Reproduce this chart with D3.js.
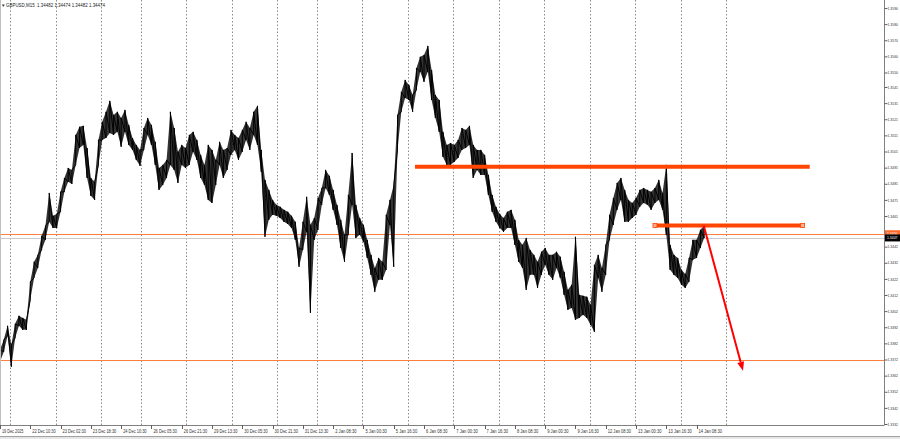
<!DOCTYPE html>
<html><head><meta charset="utf-8">
<script src="https://cdn.jsdelivr.net/npm/d3@7"></script>
<style>body{margin:0;background:#fff;overflow:hidden} svg{display:block}</style>
</head><body><svg id="c" width="900" height="439"></svg>
<script>
// ---------- data ----------
const symbolTitle = "GBPUSD,M15";
const headerValues = ["1.34482", "1.34474", "1.34482", "1.34474"];

const priceTickLabels = ["1.3590","1.3580","1.3570","1.3560","1.3550","1.3541","1.3531","1.3521","1.3511","1.3501","1.3491","1.3481","1.3471","1.3461","1.3442","1.3432","1.3422","1.3412","1.3402","1.3392","1.3382","1.3372","1.3362","1.3352","1.3342","1.3332"];

const timeLabels = ["19 Dec 2025","22 Dec 10:30","23 Dec 02:30","23 Dec 18:30","24 Dec 10:30","26 Dec 05:30","26 Dec 21:30","29 Dec 13:30","30 Dec 05:30","30 Dec 21:30","31 Dec 13:30","2 Jan 08:30","5 Jan 00:30","5 Jan 16:30","6 Jan 08:30","7 Jan 00:30","7 Jan 16:30","8 Jan 08:30","9 Jan 00:30","9 Jan 16:30","12 Jan 08:30","13 Jan 00:30","13 Jan 16:30","14 Jan 08:30"];
const timeLabelStepBars = 64;           // one label every 16 hours of M15 bars
const daySeparatorBars = [22,118,214,298,394,490,586,670,766,862,958,1054,1150,1246,1342,1438,1534];
const sampleBars = 8;                   // each sample = 2 hours of M15 bars
const visibleBars = 1868;

// 2-hour high / low samples
const highs = [1.33780,1.33842,1.33929,1.33811,1.33941,1.33991,1.33978,1.33966,1.34202,1.34326,
1.34369,1.34487,1.34549,1.34753,1.34611,1.34623,1.34760,1.34846,1.34908,1.34896,
1.35113,1.35163,1.35169,1.35032,1.34846,1.34822,1.35082,1.35194,1.35256,1.35324,
1.35237,1.35256,1.35218,1.35268,1.35175,1.35094,1.35051,1.35020,1.35156,1.35218,
1.35175,1.35070,1.34908,1.34927,1.34958,1.35256,1.35156,1.35008,1.35051,1.35032,
1.35113,1.35132,1.35082,1.34989,1.34927,1.35051,1.35020,1.34958,1.35070,1.35020,
1.35032,1.35144,1.35113,1.35094,1.35144,1.35194,1.35156,1.35256,1.35293,1.35020,
1.34834,1.34772,1.34710,1.34679,1.34667,1.34648,1.34636,1.34611,1.34574,1.34412,
1.34574,1.34729,1.34555,1.34598,1.34722,1.34784,1.34896,1.34859,1.34772,1.34679,
1.34586,1.34493,1.34741,1.35001,1.34679,1.34598,1.34555,1.34462,1.34369,1.34288,
1.34350,1.34326,1.34617,1.34710,1.34803,1.35237,1.35380,1.35454,1.35423,1.35361,
1.35528,1.35597,1.35609,1.35665,1.35516,1.35361,1.35330,1.35132,1.35051,1.35063,
1.35051,1.35082,1.35156,1.35144,1.35169,1.35051,1.35020,1.35020,1.34989,1.34865,
1.34741,1.34667,1.34623,1.34598,1.34636,1.34648,1.34586,1.34462,1.34431,1.34474,
1.34400,1.34369,1.34326,1.34388,1.34412,1.34369,1.34369,1.34388,1.34357,1.34264,
1.34152,1.34183,1.34481,1.34121,1.34115,1.34109,1.34059,1.34307,1.34369,1.34288,
1.34431,1.34617,1.34722,1.34815,1.34846,1.34772,1.34710,1.34691,1.34722,1.34772,
1.34784,1.34772,1.34760,1.34784,1.34834,1.34753,1.34927,1.34431,1.34369,1.34350,
1.34276,1.34251,1.34350,1.34462,1.34462,1.34524,1.34549];
const lows = [1.33706,1.33768,1.33867,1.33675,1.33854,1.33929,1.33904,1.33904,1.34090,1.34226,
1.34288,1.34400,1.34462,1.34574,1.34536,1.34536,1.34636,1.34760,1.34822,1.34809,
1.34927,1.35032,1.35051,1.34846,1.34735,1.34710,1.34927,1.35082,1.35094,1.35125,
1.35113,1.35132,1.35039,1.35132,1.35051,1.35020,1.34958,1.34921,1.35020,1.35113,
1.35051,1.34927,1.34772,1.34803,1.34846,1.34927,1.34896,1.34815,1.34927,1.34908,
1.34927,1.35008,1.34958,1.34846,1.34803,1.34710,1.34691,1.34803,1.34927,1.34846,
1.34896,1.34989,1.35020,1.34958,1.35008,1.35082,1.35020,1.35113,1.35051,1.34884,
1.34481,1.34586,1.34617,1.34611,1.34598,1.34574,1.34561,1.34536,1.34462,1.34295,
1.34400,1.34512,1.34009,1.34462,1.34524,1.34679,1.34784,1.34741,1.34648,1.34555,
1.34412,1.34326,1.34493,1.34679,1.34474,1.34493,1.34450,1.34350,1.34245,1.34140,
1.34214,1.34214,1.34276,1.34555,1.34295,1.35020,1.35256,1.35342,1.35330,1.35256,
1.35392,1.35504,1.35442,1.35504,1.35330,1.35218,1.35132,1.34977,1.34927,1.34927,
1.34946,1.34970,1.35020,1.35032,1.35051,1.34846,1.34896,1.34865,1.34865,1.34741,
1.34636,1.34574,1.34536,1.34512,1.34536,1.34536,1.34431,1.34326,1.34288,1.34152,
1.34245,1.34245,1.34164,1.34245,1.34307,1.34245,1.34214,1.34288,1.34226,1.34121,
1.34028,1.34040,1.33966,1.33978,1.33997,1.33978,1.33935,1.33892,1.34226,1.34140,
1.34245,1.34462,1.34555,1.34648,1.34710,1.34574,1.34574,1.34598,1.34617,1.34667,
1.34691,1.34679,1.34648,1.34691,1.34710,1.34648,1.34493,1.34276,1.34245,1.34226,
1.34183,1.34164,1.34202,1.34338,1.34350,1.34412,1.34474];

// horizontal levels across the whole chart
const thinLevels = [1.34500, 1.33720];
const bidPrice = 1.34474;
const levelLabel = "1.3450";
const bidLabel = "1.3447";
// drawn trend objects: [startBar, endBar, price]
const thickLevels = [[877, 1711, 1.34915], [1384, 1696, 1.34551]];
// arrow: [startBar, startPrice, endBar, endPrice]
const arrowObj = [1487, 1.34551, 1570, 1.33650];

// ---------- layout ----------
const svg = d3.select("#c");
const plotRight = 884, plotBottom = 425;
const x = d3.scaleLinear().domain([0, visibleBars]).range([0, plotRight]);
const y = d3.scaleLinear().domain([1.3332, 1.3590]).range([424, 8]);
const FONT = "'Liberation Sans', Arial, sans-serif";
const FS = 4.6;
const FS_AX = 3.7;

// day separators
svg.append("g").selectAll("line").data(daySeparatorBars).join("line")
  .attr("x1", d => Math.round(x(d)) + 0.5).attr("x2", d => Math.round(x(d)) + 0.5)
  .attr("y1", 0).attr("y2", plotBottom)
  .attr("stroke", "#8c8c8c").attr("stroke-width", 1).attr("stroke-dasharray", "1.5,2");

// thin horizontal orange levels
svg.append("g").selectAll("line").data(thinLevels).join("line")
  .attr("x1", 0).attr("x2", plotRight)
  .attr("y1", d => Math.round(y(d)) + 0.5).attr("y2", d => Math.round(y(d)) + 0.5)
  .attr("stroke", "#ff7f3c").attr("stroke-width", 1);

// bid line
svg.append("line").attr("x1", 0).attr("x2", plotRight)
  .attr("y1", Math.round(y(bidPrice)) + 0.5).attr("y2", Math.round(y(bidPrice)) + 0.5)
  .attr("stroke", "#c8c8c8").attr("stroke-width", 1);

// price band
const idx = d3.range(highs.length);
const g = svg.append("g");
const area = d3.area().x(i => x(i * sampleBars)).y0(i => y(lows[i])).y1(i => y(highs[i]));
g.append("path").datum(idx).attr("d", area).attr("fill", "#000").attr("fill-opacity", 0.8);
const saw = [];
idx.forEach(i => { const xx = x(i * sampleBars); saw.push([xx, y(lows[i])], [xx, y(highs[i])]); });
g.append("path").datum(saw).attr("d", d3.line())
  .attr("fill", "none").attr("stroke", "#000").attr("stroke-width", 1);

// thick level objects
const tl = svg.append("g");
thickLevels.forEach(([b0, b1, p], k) => {
  tl.append("line").attr("x1", x(b0)).attr("x2", x(b1)).attr("y1", y(p)).attr("y2", y(p))
    .attr("stroke", "#ff4500").attr("stroke-width", 4);
  if (k === 1) {
    [b0, b1].forEach(b => tl.append("rect").attr("x", x(b) - 2).attr("y", y(p) - 2)
      .attr("width", 4).attr("height", 4).attr("fill", "#ffb08a").attr("stroke", "#ff4500").attr("stroke-width", 0.8));
  }
});

// arrow
const [ab0, ap0, ab1, ap1] = arrowObj;
const ax0 = x(ab0), ay0 = y(ap0), ax1 = x(ab1), ay1 = y(ap1);
const ang = Math.atan2(ay1 - ay0, ax1 - ax0);
const hl = 9, hw = 3.5;
const bx = ax1 - hl * Math.cos(ang), by = ay1 - hl * Math.sin(ang);
svg.append("line").attr("x1", ax0).attr("y1", ay0).attr("x2", bx).attr("y2", by)
  .attr("stroke", "#ff0000").attr("stroke-width", 2);
svg.append("path").attr("d", `M${ax1},${ay1}L${bx - hw * Math.sin(ang)},${by + hw * Math.cos(ang)}L${bx + hw * Math.sin(ang)},${by - hw * Math.cos(ang)}Z`)
  .attr("fill", "#ff0000");

// frame
svg.append("line").attr("x1", plotRight + 0.5).attr("x2", plotRight + 0.5).attr("y1", 0).attr("y2", plotBottom)
  .attr("stroke", "#808080");
svg.append("line").attr("x1", 0).attr("x2", plotRight + 0.5).attr("y1", plotBottom + 0.5).attr("y2", plotBottom + 0.5)
  .attr("stroke", "#808080");
svg.append("line").attr("x1", 0.5).attr("x2", 0.5).attr("y1", 0).attr("y2", plotBottom).attr("stroke", "#c0c0c0");
svg.append("rect").attr("x", 0).attr("y", 437).attr("width", 900).attr("height", 2).attr("fill", "#e6e6e6");
svg.append("line").attr("x1", 0).attr("x2", 900).attr("y1", 436.5).attr("y2", 436.5).attr("stroke", "#a0a0a0");

// price axis
const yAxis = d3.axisRight(y).tickValues(priceTickLabels.map(Number)).tickSize(3)
  .tickFormat((d, i) => priceTickLabels[i]);
const ya = svg.append("g").attr("transform", `translate(${plotRight + 0.5},0)`).call(yAxis);
ya.select(".domain").remove();
ya.selectAll("line").attr("stroke", "#606060");
ya.selectAll("text").attr("font-family", FONT).attr("font-size", FS_AX).attr("fill", "#333")
  .attr("x", 3).attr("textLength", 10.5).attr("lengthAdjust", "spacingAndGlyphs");

// level labels
function tag(p, txt, bg) {
  const yy = y(p);
  svg.append("rect").attr("x", plotRight + 1).attr("y", yy - 3.5).attr("width", 16).attr("height", 7).attr("fill", bg);
  svg.append("text").attr("x", plotRight + 3).attr("y", yy + 1.5).text(txt)
    .attr("font-family", FONT).attr("font-size", FS_AX).attr("fill", "#fff")
    .attr("textLength", 10.5).attr("lengthAdjust", "spacingAndGlyphs");
}
tag(thinLevels[0], levelLabel, "#ff6a2a");
tag(bidPrice, bidLabel, "#000");

// time axis
const tickBars = timeLabels.map((_, i) => i * timeLabelStepBars);
const xa = svg.append("g");
xa.selectAll("line").data(tickBars).join("line")
  .attr("x1", d => Math.round(x(d)) + 0.5).attr("x2", d => Math.round(x(d)) + 0.5)
  .attr("y1", plotBottom).attr("y2", plotBottom + 4).attr("stroke", "#606060");
xa.selectAll("text").data(timeLabels).join("text")
  .attr("x", (d, i) => x(tickBars[i]) + 2).attr("y", 433).text(d => d)
  .attr("font-family", FONT).attr("font-size", FS).attr("fill", "#333")
  .attr("textLength", d => d.length * 1.95).attr("lengthAdjust", "spacingAndGlyphs");

// header
svg.append("text").attr("x", 1).attr("y", 7).text("▼")
  .attr("font-family", FONT).attr("font-size", 4.5).attr("fill", "#333");
svg.append("text").attr("x", 6).attr("y", 7)
  .text(symbolTitle + "  " + headerValues.join(" "))
  .attr("font-family", FONT).attr("font-size", 5.4).attr("fill", "#222").attr("xml:space", "preserve")
  .attr("textLength", 99).attr("lengthAdjust", "spacingAndGlyphs");
</script>
</body></html>
